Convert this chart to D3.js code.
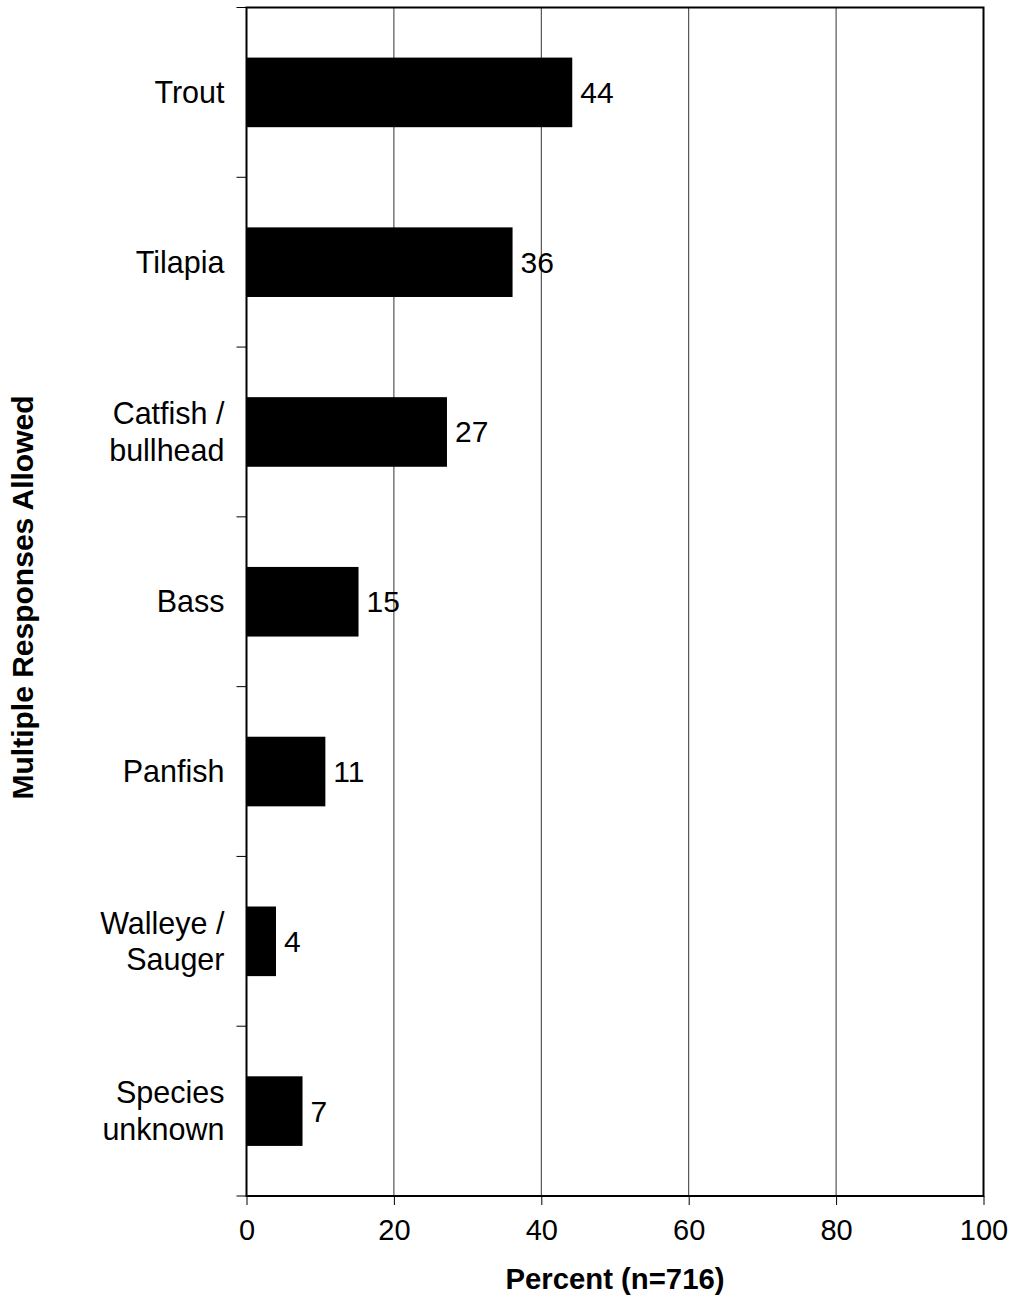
<!DOCTYPE html>
<html>
<head>
<meta charset="utf-8">
<script src="https://cdn.jsdelivr.net/npm/d3@7/dist/d3.min.js"></script>
<style>
  html, body { margin: 0; padding: 0; background: #fff; }
  svg { display: block; font-family: Arial, "Liberation Sans", sans-serif; }
</style>
</head>
<body>
<svg id="chart" width="1013" height="1309"></svg>
<script>
// Species of fish caught (percent of respondents)
const categories = [
  ["Trout"],
  ["Tilapia"],
  ["Catfish /", "bullhead"],
  ["Bass"],
  ["Panfish"],
  ["Walleye /", "Sauger"],
  ["Species", "unknown"]
];
const values = [44.2, 36.1, 27.2, 15.2, 10.7, 4.0, 7.6];
const valueLabels = ["44", "36", "27", "15", "11", "4", "7"];
const xTicks = [0, 20, 40, 60, 80, 100];
const xTitle = "Percent (n=716)";
const yTitle = "Multiple Responses Allowed";

const W = 1013, H = 1309;
const margin = { top: 7.5, right: 29.5, bottom: 113, left: 246.5 };
const iw = W - margin.left - margin.right;
const ih = H - margin.top - margin.bottom;

const svg = d3.select("#chart");
const g = svg.append("g").attr("transform", `translate(${margin.left},${margin.top})`);

const x = d3.scaleLinear().domain([0, 100]).range([0, iw]);
const idx = d3.range(categories.length);
const y = d3.scaleBand().domain(idx).range([0, ih]).paddingInner(0.59).paddingOuter(0.295);

// vertical gridlines
g.append("g").selectAll("line")
  .data(xTicks.filter(t => t > 0 && t < 100))
  .join("line")
  .attr("x1", d => x(d)).attr("x2", d => x(d))
  .attr("y1", 0).attr("y2", ih)
  .attr("stroke", "#333").attr("stroke-width", 1);

// bars
g.append("g").selectAll("rect")
  .data(values)
  .join("rect")
  .attr("x", 0)
  .attr("y", (d, i) => y(i))
  .attr("width", d => x(d))
  .attr("height", y.bandwidth())
  .attr("fill", "#000");

// value labels
g.append("g").selectAll("text")
  .data(values)
  .join("text")
  .attr("x", d => x(d) + 8)
  .attr("y", (d, i) => y(i) + y.bandwidth() / 2)
  .attr("dy", "0.35em")
  .attr("font-size", 30)
  .attr("fill", "#000")
  .text((d, i) => valueLabels[i]);

// plot frame
g.append("rect")
  .attr("x", 0).attr("y", 0).attr("width", iw).attr("height", ih)
  .attr("fill", "none").attr("stroke", "#000").attr("stroke-width", 2);

// bottom axis
const xAxis = g.append("g")
  .attr("transform", `translate(0,${ih})`)
  .call(d3.axisBottom(x).tickValues(xTicks).tickSize(9).tickPadding(14));
xAxis.select(".domain").remove();
xAxis.selectAll(".tick line").attr("stroke", "#000").attr("stroke-width", 1);
xAxis.selectAll(".tick text")
  .attr("font-size", 29).attr("font-family", "Arial, 'Liberation Sans', sans-serif").attr("fill", "#000");

// left axis tick marks at category boundaries
const bounds = d3.range(categories.length + 1).map(i => i * ih / categories.length);
g.append("g").selectAll("line")
  .data(bounds)
  .join("line")
  .attr("x1", -10).attr("x2", 0)
  .attr("y1", d => d).attr("y2", d => d)
  .attr("stroke", "#000").attr("stroke-width", 1);

// category labels
const lineGap = 37;
g.append("g").selectAll("text")
  .data(categories)
  .join("text")
  .attr("text-anchor", "end")
  .attr("font-size", 30.5)
  .attr("fill", "#000")
  .attr("transform", (d, i) => `translate(-22,${y(i) + y.bandwidth() / 2})`)
  .each(function(lines) {
    const t = d3.select(this);
    const off = -(lines.length - 1) * lineGap / 2;
    lines.forEach((ln, k) => {
      t.append("tspan")
        .attr("x", 0)
        .attr("y", off + k * lineGap)
        .attr("dy", "0.35em")
        .text(ln);
    });
  });

// axis titles
svg.append("text")
  .attr("x", margin.left + iw / 2)
  .attr("y", 1289)
  .attr("text-anchor", "middle")
  .attr("font-size", 29.3).attr("font-weight", "bold")
  .text(xTitle);

svg.append("text")
  .attr("transform", `translate(33,${597.5}) rotate(-90)`)
  .attr("text-anchor", "middle")
  .attr("font-size", 30).attr("font-weight", "bold")
  .text(yTitle);
</script>
</body>
</html>
